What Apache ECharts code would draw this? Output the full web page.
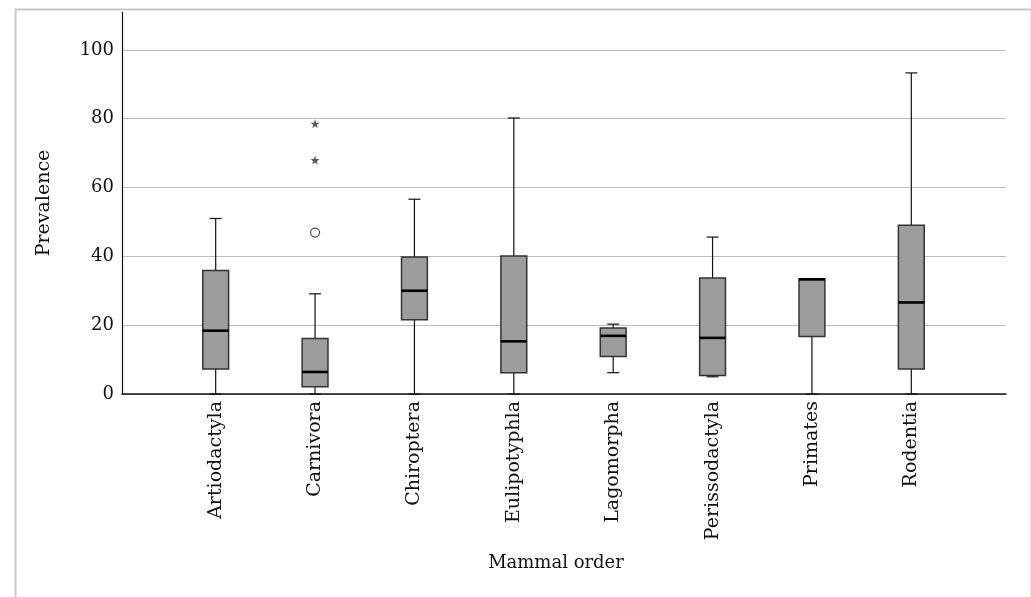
<!DOCTYPE html>
<html>
<head>
<meta charset="utf-8">
<script src="https://cdn.jsdelivr.net/npm/echarts@6/dist/echarts.min.js"></script>
<style>
html,body{margin:0;padding:0;background:#fff;}
#chart{width:1031px;height:597px;}
</style>
</head>
<body>
<div id="chart"></div>
<script>
var categories = ['Artiodactyla','Carnivora','Chiroptera','Eulipotyphla','Lagomorpha','Perissodactyla','Primates','Rodentia'];
var whiskerLow  = [0,    0,    0,    0,    6.2,  5.0,  0,    0];
var q1          = [7.3,  2.1,  21.6, 6.2,  10.9, 5.4,  16.7, 7.3];
var median      = [18.4, 6.4,  30.0, 15.3, 16.9, 16.3, 33.3, 26.6];
var q3          = [35.9, 16.1, 39.8, 40.1, 19.2, 33.7, 33.5, 49.0];
var whiskerHigh = [51.0, 29.1, 56.6, 80.2, 20.3, 45.6, 33.5, 93.3];
var outliers = [['Carnivora', 46.9]];
var extremes = [['Carnivora', 78.5], ['Carnivora', 68.0]];
var yTicks = [0, 20, 40, 60, 80, 100];

var FONT = 'DejaVu Serif';
var boxData = categories.map(function (c, i) {
  return [i, whiskerLow[i], q1[i], median[i], q3[i], whiskerHigh[i]];
});

function renderBox(params, api) {
  var idx = api.value(0);
  var band = api.size([1, 0])[0];
  var boxW = band * 0.26;
  var capW = band * 0.12;
  var pMin = api.coord([idx, api.value(1)]);
  var pQ1 = api.coord([idx, api.value(2)]);
  var pMed = api.coord([idx, api.value(3)]);
  var pQ3 = api.coord([idx, api.value(4)]);
  var pMax = api.coord([idx, api.value(5)]);
  var cx = pMed[0];
  var children = [];
  var lineStyle = {stroke: '#111', lineWidth: 1.2};
  if (pMax[1] < pQ3[1] - 0.5) {
    children.push({type: 'line', shape: {x1: cx, y1: pQ3[1], x2: cx, y2: pMax[1]}, style: lineStyle});
    children.push({type: 'line', shape: {x1: cx - capW / 2, y1: pMax[1], x2: cx + capW / 2, y2: pMax[1]}, style: lineStyle});
  }
  if (pMin[1] > pQ1[1] + 0.5) {
    children.push({type: 'line', shape: {x1: cx, y1: pQ1[1], x2: cx, y2: pMin[1]}, style: lineStyle});
    children.push({type: 'line', shape: {x1: cx - capW / 2, y1: pMin[1], x2: cx + capW / 2, y2: pMin[1]}, style: lineStyle});
  }
  children.push({type: 'rect', shape: {x: cx - boxW / 2, y: pQ3[1], width: boxW, height: pQ1[1] - pQ3[1]},
    style: {fill: '#9d9d9d', stroke: '#333', lineWidth: 1.5}});
  children.push({type: 'line', shape: {x1: cx - boxW / 2, y1: pMed[1], x2: cx + boxW / 2, y2: pMed[1]},
    style: {stroke: '#000', lineWidth: 2.6}});
  return {type: 'group', children: children};
}

var starPath = 'path://M50,0 L61.8,35.1 L97.6,34.5 L69.1,56.9 L79.4,90.5 L50,70 L20.6,90.5 L30.9,56.9 L2.4,34.5 L38.2,35.1 Z';

var chart = echarts.init(document.getElementById('chart'), null, {renderer: 'canvas'});
chart.setOption({
  animation: false,
  backgroundColor: '#fff',
  graphic: [{
    type: 'rect', left: 13, top: 7, shape: {x: 0, y: 0, width: 1016, height: 700},
    style: {fill: 'none', stroke: '#c8c8c8', lineWidth: 2}, z: -10
  }],
  grid: [
    {left: 122, right: 25, top: 12, bottom: 203},
    {left: 166, right: 70, top: 12, bottom: 203}
  ],
  xAxis: [{
    gridIndex: 0, type: 'value', min: 0, max: 1,
    axisLine: {show: true, onZero: false, lineStyle: {color: '#111', width: 1.5}},
    axisTick: {show: false}, axisLabel: {show: false}, splitLine: {show: false},
    name: 'Mammal order', nameLocation: 'middle', nameGap: 160,
    nameTextStyle: {fontFamily: FONT, fontSize: 18, color: '#111', padding: [0, 16, 0, 0]}
  }, {
    gridIndex: 1, type: 'category', data: categories, boundaryGap: true,
    axisLine: {show: false}, axisTick: {show: false},
    axisLabel: {rotate: 90, margin: 7, fontFamily: FONT, fontSize: 19, color: '#111', interval: 0}
  }],
  yAxis: [{
    gridIndex: 0, type: 'value', min: 0, max: 111, interval: 20,
    axisLine: {show: true, lineStyle: {color: '#111', width: 1.2}},
    axisTick: {show: false},
    axisLabel: {margin: 8, fontFamily: FONT, fontSize: 18, color: '#111', showMaxLabel: false,
      formatter: function (v) { return yTicks.indexOf(v) >= 0 ? String(v) : ''; }},
    splitLine: {show: true, showMaxLine: false, lineStyle: {color: '#bdbdbd', width: 1}},
    name: 'Prevalence', nameLocation: 'middle', nameGap: 68,
    nameTextStyle: {fontFamily: FONT, fontSize: 19, color: '#111'}
  }, {
    gridIndex: 1, type: 'value', min: 0, max: 111, interval: 20,
    show: false, splitLine: {show: false}
  }],
  series: [{
    type: 'custom', xAxisIndex: 1, yAxisIndex: 1,
    renderItem: renderBox, data: boxData,
    encode: {x: 0, y: [1, 2, 3, 4, 5]}
  }, {
    type: 'scatter', xAxisIndex: 1, yAxisIndex: 1,
    data: outliers, symbol: 'circle', symbolSize: 9,
    itemStyle: {color: '#fff', borderColor: '#222', borderWidth: 1.2}
  }, {
    type: 'scatter', xAxisIndex: 1, yAxisIndex: 1,
    data: extremes, symbol: starPath, symbolSize: 9,
    itemStyle: {color: '#333'}
  }]
});
</script>
</body>
</html>
